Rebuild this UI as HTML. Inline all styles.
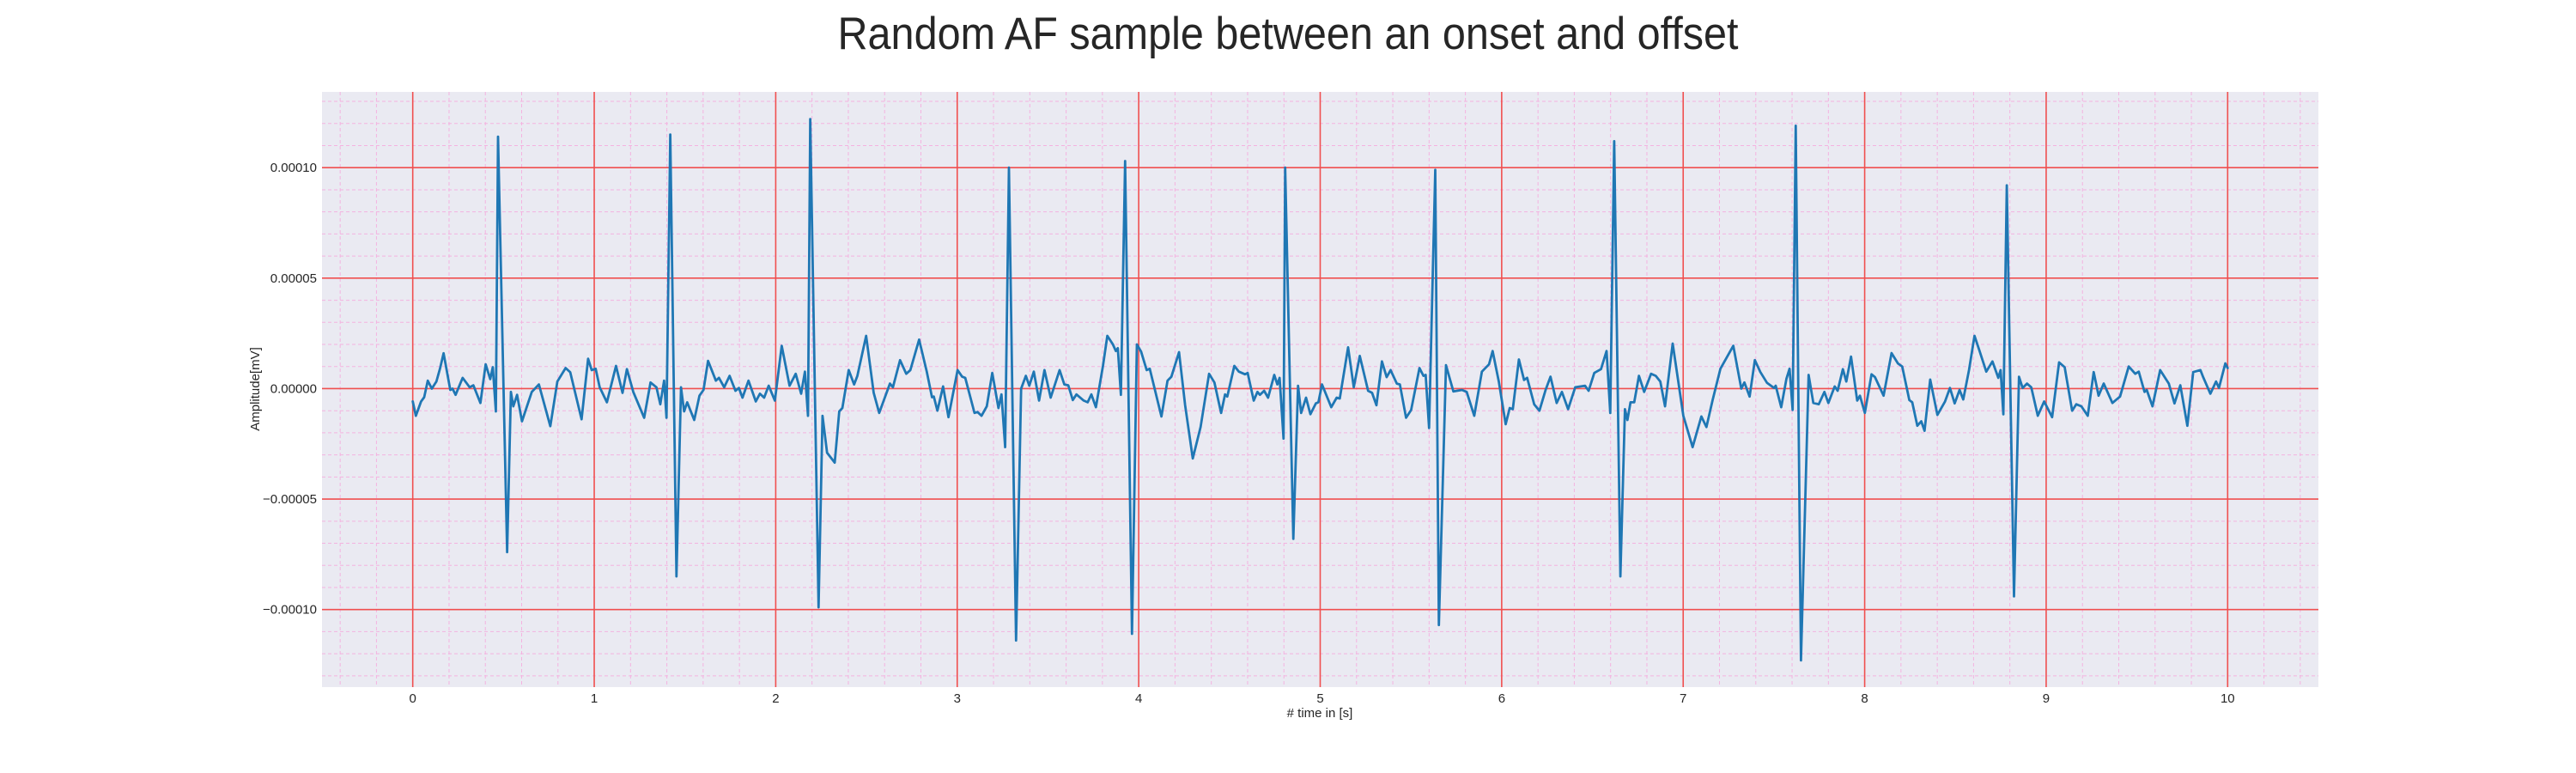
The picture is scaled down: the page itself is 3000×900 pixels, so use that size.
<!DOCTYPE html>
<html><head><meta charset="utf-8"><style>
html,body{margin:0;padding:0;background:#fff;}
svg{display:block;font-family:"Liberation Sans",Arial,sans-serif;}
</style></head><body>
<svg id="chart" width="3000" height="900" viewBox="0 0 3000 900" xmlns="http://www.w3.org/2000/svg">
<text x="1500" y="57" font-size="53" fill="#262626" text-anchor="middle" textLength="1049" lengthAdjust="spacingAndGlyphs">Random AF sample between an onset and offset</text>
<rect x="375" y="107" width="2325" height="693" fill="#eaeaf2"/>
<g id="minor-grid"></g>
<g id="major-grid"></g>
<g id="series"></g>
<g id="x-ticks"></g>
<g id="y-ticks"></g>
<text x="1537" y="835" font-size="15" fill="#262626" text-anchor="middle"># time in [s]</text>
<text x="0" y="0" font-size="15" fill="#262626" text-anchor="middle" transform="translate(302,453) rotate(-90)">Amplitude[mV]</text>
</svg>
<script>
const xTicks = [0,1,2,3,4,5,6,7,8,9,10];
const xTickLabels = ["0","1","2","3","4","5","6","7","8","9","10"];
const yTicks = [0.0001,0.00005,0,-0.00005,-0.0001];
const yTickLabels = ["0.00010","0.00005","0.00000","\u22120.00005","\u22120.00010"];
const times = [0,.017,.046,.063,.083,.105,.13,.15,.17,.207,.219,.236,.275,.314,.334,.373,.402,.427,.441,.458,.47,.52,.541,.554,.575,.602,.656,.695,.758,.797,.842,.868,.93,.966,.986,1.008,1.03,1.07,1.12,1.156,1.18,1.215,1.275,1.31,1.343,1.364,1.385,1.398,1.419,1.453,1.478,1.495,1.512,1.551,1.58,1.602,1.627,1.67,1.687,1.716,1.746,1.778,1.797,1.817,1.85,1.89,1.913,1.936,1.961,1.995,2.033,2.076,2.11,2.14,2.161,2.178,2.19,2.236,2.258,2.283,2.325,2.35,2.367,2.402,2.432,2.45,2.498,2.54,2.57,2.629,2.646,2.685,2.719,2.742,2.79,2.832,2.861,2.871,2.891,2.922,2.952,3.002,3.027,3.044,3.095,3.112,3.134,3.163,3.193,3.227,3.244,3.264,3.285,3.324,3.352,3.378,3.397,3.422,3.451,3.481,3.515,3.564,3.59,3.612,3.637,3.657,3.697,3.719,3.739,3.764,3.803,3.827,3.858,3.874,3.885,3.902,3.925,3.963,3.99,4.013,4.044,4.061,4.125,4.159,4.18,4.222,4.256,4.298,4.341,4.388,4.417,4.454,4.476,4.488,4.527,4.552,4.586,4.6,4.634,4.654,4.668,4.691,4.713,4.747,4.764,4.776,4.798,4.807,4.852,4.878,4.895,4.922,4.946,4.976,4.99,5.01,5.061,5.091,5.108,5.154,5.185,5.218,5.264,5.286,5.31,5.34,5.366,5.388,5.422,5.439,5.473,5.501,5.547,5.569,5.581,5.6,5.634,5.654,5.693,5.734,5.781,5.807,5.849,5.891,5.93,5.95,5.984,6.022,6.044,6.061,6.095,6.123,6.14,6.179,6.208,6.242,6.269,6.303,6.332,6.366,6.405,6.459,6.479,6.51,6.547,6.578,6.598,6.62,6.654,6.679,6.693,6.71,6.73,6.756,6.785,6.823,6.849,6.874,6.9,6.942,7.001,7.052,7.1,7.128,7.162,7.205,7.276,7.32,7.337,7.366,7.395,7.425,7.462,7.501,7.51,7.54,7.569,7.586,7.603,7.62,7.649,7.691,7.717,7.747,7.778,7.8,7.835,7.851,7.88,7.899,7.925,7.959,7.974,8.001,8.038,8.057,8.104,8.148,8.183,8.207,8.246,8.262,8.29,8.312,8.33,8.361,8.401,8.443,8.47,8.496,8.523,8.543,8.575,8.605,8.633,8.67,8.704,8.736,8.749,8.764,8.783,8.823,8.85,8.87,8.894,8.918,8.954,8.989,9.033,9.071,9.102,9.143,9.166,9.194,9.229,9.262,9.289,9.317,9.365,9.407,9.455,9.491,9.51,9.542,9.554,9.586,9.628,9.676,9.707,9.739,9.778,9.81,9.85,9.865,9.905,9.936,9.952,9.987,10.0];
const values = [-0.58e-5,-1.23e-5,-0.58e-5,-0.39e-5,0.36e-5,0,0.32e-5,0.9e-5,1.6e-5,-0.06e-5,0,-0.28e-5,0.49e-5,0.06e-5,0.15e-5,-0.65e-5,1.1e-5,0.43e-5,0.97e-5,-1.03e-5,11.4e-5,-7.4e-5,-0.15e-5,-0.8e-5,-0.28e-5,-1.48e-5,-0.15e-5,0.19e-5,-1.7e-5,0.32e-5,0.93e-5,0.74e-5,-1.39e-5,1.35e-5,0.84e-5,0.9e-5,0.06e-5,-0.62e-5,1.03e-5,-0.19e-5,0.88e-5,-0.15e-5,-1.32e-5,0.28e-5,0.06e-5,-0.71e-5,0.36e-5,-1.32e-5,11.5e-5,-8.5e-5,0.06e-5,-1.03e-5,-0.62e-5,-1.42e-5,-0.32e-5,-0.06e-5,1.26e-5,0.36e-5,0.49e-5,0.06e-5,0.58e-5,-0.1e-5,0.03e-5,-0.41e-5,0.36e-5,-0.58e-5,-0.23e-5,-0.41e-5,0.13e-5,-0.54e-5,1.94e-5,0.13e-5,0.67e-5,-0.23e-5,0.77e-5,-1.23e-5,12.2e-5,-9.9e-5,-1.23e-5,-2.9e-5,-3.35e-5,-1.03e-5,-0.88e-5,0.84e-5,0.19e-5,0.58e-5,2.39e-5,-0.19e-5,-1.1e-5,0.23e-5,0.06e-5,1.29e-5,0.67e-5,0.84e-5,2.22e-5,0.77e-5,-0.39e-5,-0.36e-5,-1.0e-5,0.1e-5,-1.29e-5,0.84e-5,0.54e-5,0.49e-5,-1.1e-5,-1.06e-5,-1.23e-5,-0.8e-5,0.71e-5,-0.88e-5,-0.26e-5,-2.65e-5,10.0e-5,-11.4e-5,0,0.58e-5,0.13e-5,0.77e-5,-0.54e-5,0.84e-5,-0.41e-5,0.84e-5,0.19e-5,0.15e-5,-0.52e-5,-0.26e-5,-0.54e-5,-0.62e-5,-0.26e-5,-0.84e-5,1.03e-5,2.39e-5,2.0e-5,1.7e-5,1.83e-5,-0.28e-5,10.3e-5,-11.1e-5,2.0e-5,1.68e-5,0.84e-5,0.9e-5,-1.26e-5,0.36e-5,0.54e-5,1.65e-5,-0.75e-5,-3.16e-5,-1.74e-5,0.67e-5,0.28e-5,-1.1e-5,-0.26e-5,-0.36e-5,1.03e-5,0.77e-5,0.65e-5,0.71e-5,-0.54e-5,-0.15e-5,-0.28e-5,-0.1e-5,-0.41e-5,0.62e-5,0.19e-5,0.49e-5,-2.26e-5,10.0e-5,-6.8e-5,0.13e-5,-1.1e-5,-0.41e-5,-1.16e-5,-0.67e-5,-0.62e-5,0.19e-5,-0.84e-5,-0.41e-5,-0.45e-5,1.87e-5,0.06e-5,1.48e-5,-0.1e-5,-0.19e-5,-0.75e-5,1.23e-5,0.52e-5,0.84e-5,0.23e-5,0.19e-5,-1.32e-5,-0.97e-5,0.93e-5,0.58e-5,0.62e-5,-1.78e-5,9.9e-5,-10.7e-5,1.06e-5,-0.13e-5,-0.06e-5,-0.15e-5,-1.23e-5,0.77e-5,1.1e-5,1.7e-5,0.32e-5,-1.61e-5,-0.88e-5,-0.93e-5,1.32e-5,0.39e-5,0.49e-5,-0.71e-5,-1.0e-5,-0.06e-5,0.54e-5,-0.65e-5,-0.15e-5,-0.93e-5,0.06e-5,0.13e-5,-0.1e-5,0.71e-5,0.88e-5,1.7e-5,-1.1e-5,11.2e-5,-8.5e-5,-0.93e-5,-1.42e-5,-0.62e-5,-0.62e-5,0.58e-5,-0.15e-5,0.67e-5,0.58e-5,0.32e-5,-0.8e-5,2.04e-5,-1.23e-5,-2.65e-5,-1.26e-5,-1.74e-5,-0.52e-5,0.9e-5,1.94e-5,0,0.28e-5,-0.36e-5,1.29e-5,0.75e-5,0.26e-5,0.03e-5,0.13e-5,-0.84e-5,0.45e-5,0.9e-5,-0.97e-5,11.9e-5,-12.3e-5,0.62e-5,-0.65e-5,-0.71e-5,-0.15e-5,-0.65e-5,0.1e-5,-0.1e-5,0.88e-5,0.32e-5,1.45e-5,-0.54e-5,-0.32e-5,-1.1e-5,0.65e-5,0.52e-5,-0.32e-5,1.61e-5,1.14e-5,1.0e-5,-0.52e-5,-0.62e-5,-1.68e-5,-1.48e-5,-1.91e-5,0.41e-5,-1.19e-5,-0.58e-5,0.03e-5,-0.67e-5,-0.06e-5,-0.49e-5,0.84e-5,2.39e-5,1.7e-5,0.77e-5,1.23e-5,0.49e-5,0.84e-5,-1.16e-5,9.2e-5,-9.4e-5,0.54e-5,0.03e-5,0.23e-5,0.06e-5,-1.23e-5,-0.58e-5,-1.29e-5,1.19e-5,0.97e-5,-1.0e-5,-0.71e-5,-0.8e-5,-1.23e-5,0.75e-5,-0.32e-5,0.23e-5,-0.65e-5,-0.36e-5,1.0e-5,0.67e-5,0.77e-5,-0.15e-5,-0.06e-5,-0.8e-5,0.84e-5,0.23e-5,-0.67e-5,0.15e-5,-1.68e-5,0.75e-5,0.84e-5,0.52e-5,-0.23e-5,0.32e-5,0.03e-5,1.14e-5,0.93e-5];

const NS = "http://www.w3.org/2000/svg";
const PL = 375, PR = 2700, PT = 107, PB = 800;
const XMIN = -0.5, XMAX = 10.5, YMIN = -0.0001351, YMAX = 0.0001343;
function xScale(t){ return PL + (t - XMIN) / (XMAX - XMIN) * (PR - PL); }
function yScale(v){ return PB - (v - YMIN) / (YMAX - YMIN) * (PB - PT); }
function mk(tag, attrs, parent){ const e = document.createElementNS(NS, tag); for (const k in attrs) e.setAttribute(k, attrs[k]); parent.appendChild(e); return e; }

const minorG = document.getElementById('minor-grid');
for (let i = -2; i <= 52; i++) {
  const t = i * 0.2;
  if (t < XMIN || t > XMAX || i % 5 === 0) continue;
  const x = xScale(t);
  const l = mk('line', {x1:x, x2:x, y1:PT, y2:PB, stroke:'#f4b3e0', 'stroke-width':1, 'stroke-dasharray':'4,3'}, minorG);
  
  
}
for (let i = -14; i <= 14; i++) {
  const v = i * 0.00001;
  if (v < YMIN || v > YMAX || i % 5 === 0) continue;
  const y = yScale(v);
  const l = mk('line', {x1:PL, x2:PR, y1:y, y2:y, stroke:'#f4b3e0', 'stroke-width':1, 'stroke-dasharray':'4,3'}, minorG);
  
  
}
const majorG = document.getElementById('major-grid');
const xtG = document.getElementById('x-ticks');
xTicks.forEach((t, i) => {
  const x = xScale(t);
  const l = mk('line', {x1:x, x2:x, y1:PT, y2:PB, stroke:'#f04f4f', 'stroke-width':1.6}, majorG);
  
  
  const tx = mk('text', {x:x, y:818, 'font-size':15, fill:'#262626', 'text-anchor':'middle'}, xtG);
  tx.textContent = xTickLabels[i];
  
  
});
const ytG = document.getElementById('y-ticks');
yTicks.forEach((v, i) => {
  const y = yScale(v);
  const l = mk('line', {x1:PL, x2:PR, y1:y, y2:y, stroke:'#f04f4f', 'stroke-width':1.6}, majorG);
  
  
  const tx = mk('text', {x:369, y:y + 5, 'font-size':15, fill:'#262626', 'text-anchor':'end'}, ytG);
  tx.textContent = yTickLabels[i];
  
  
});
const pts = times.map((t, i) => xScale(t).toFixed(1) + ',' + yScale(values[i]).toFixed(1)).join(' ');
const line = mk('polyline', {points:pts, fill:'none', stroke:'#1f77b4', 'stroke-width':2.8, 'stroke-linejoin':'round', 'stroke-linecap':'round'}, document.getElementById('series'));


</script>
</body></html>
